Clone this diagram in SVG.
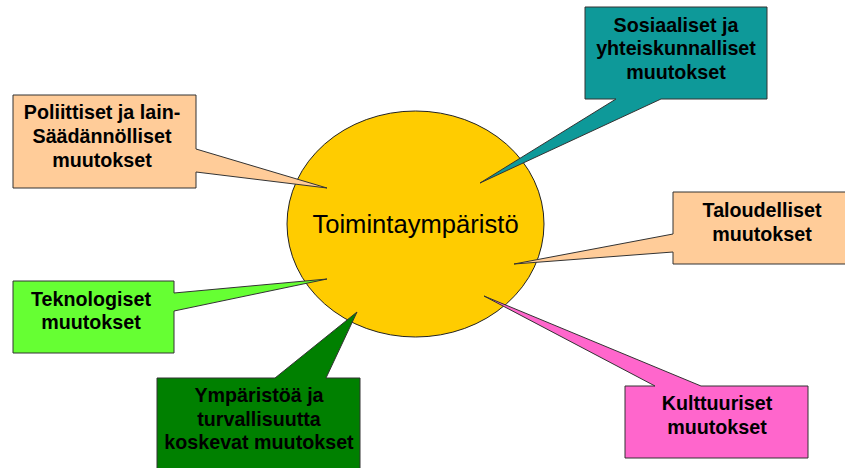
<svg xmlns="http://www.w3.org/2000/svg" width="845" height="468" viewBox="0 0 845 468">
<style>
.co{stroke:#333;stroke-width:1;stroke-linejoin:miter}
.t{font-family:"Liberation Sans",Arial,sans-serif;font-weight:bold;font-size:19.7px;fill:#000;text-anchor:middle}
.c{font-family:"Liberation Sans",Arial,sans-serif;font-size:25.6px;fill:#000;text-anchor:middle}
</style>
<rect width="845" height="468" fill="#fff"/>
<g id="center">
<ellipse cx="415.5" cy="224" rx="128.5" ry="113" fill="#FFCC00" stroke="#222" stroke-width="1"/>
<text class="c" x="415.5" y="233">Toimintaympäristö</text>
</g>
<g id="connectors"></g>
<g id="poliittiset">
<path class="co" fill="#FFCC99" d="M13,95 H196 V149 L327,188 L196,172 V188 H13 Z"/>
<text class="t" x="102" y="119">Poliittiset ja lain-</text>
<text class="t" x="102" y="143">Säädännölliset</text>
<text class="t" x="102" y="167">muutokset</text>
</g>
<g id="sosiaaliset">
<path class="co" fill="#0E9999" d="M585,7 H767 V99 H661 L480,183 L616,99 H585 Z"/>
<text class="t" x="676" y="32">Sosiaaliset ja</text>
<text class="t" x="676" y="55">yhteiskunnalliset</text>
<text class="t" x="676" y="79">muutokset</text>
</g>
<g id="taloudelliset">
<path class="co" fill="#FFCC99" d="M673,192 H851 V264 H673 V252 L514,264 L673,234 Z"/>
<text class="t" x="762" y="217">Taloudelliset</text>
<text class="t" x="762" y="241">muutokset</text>
</g>
<g id="teknologiset">
<path class="co" fill="#66FF33" d="M13,281 H174 V293 L327,279 L174,311 V353 H13 Z"/>
<text class="t" x="91" y="306">Teknologiset</text>
<text class="t" x="91" y="329">muutokset</text>
</g>
<g id="ymparistoa">
<path class="co" fill="#008000" d="M157,378 H275 L357,312 L326,378 H360 V475 H157 Z"/>
<text class="t" x="259" y="402">Ympäristöä ja</text>
<text class="t" x="259" y="426">turvallisuutta</text>
<text class="t" x="259" y="449">koskevat muutokset</text>
</g>
<g id="kulttuuriset">
<path class="co" fill="#FF66CC" d="M625,386 H655 L484,296 L701,386 H808 V458 H625 Z"/>
<text class="t" x="717" y="410">Kulttuuriset</text>
<text class="t" x="717" y="434">muutokset</text>
</g>
</svg>
